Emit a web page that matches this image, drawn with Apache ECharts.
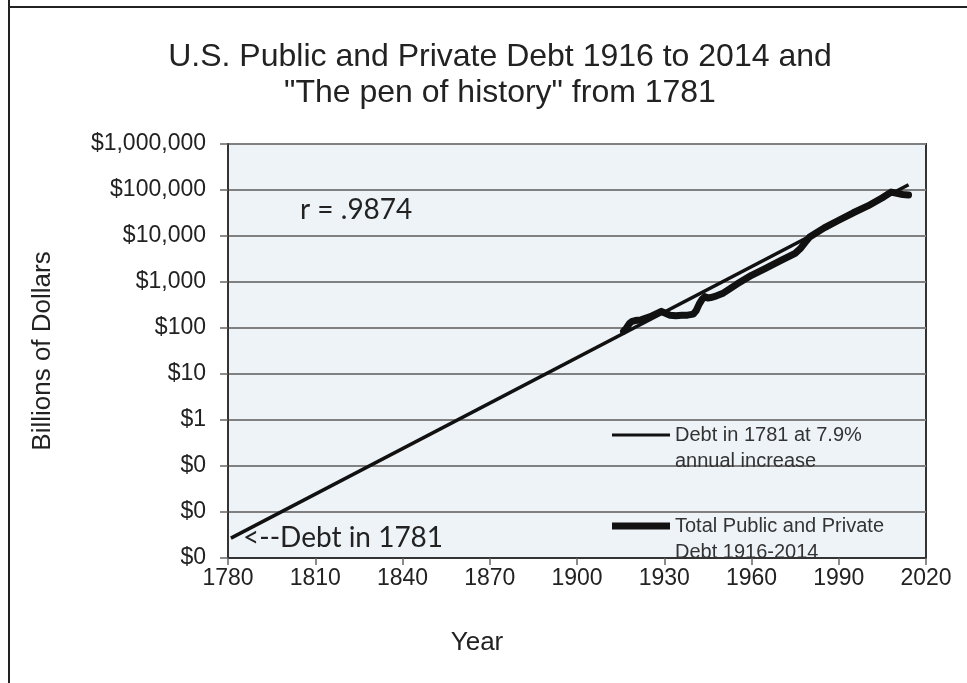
<!DOCTYPE html>
<html>
<head>
<meta charset="utf-8">
<script src="https://cdn.jsdelivr.net/npm/echarts@6/dist/echarts.min.js"></script>
<style>
html,body{margin:0;padding:0;background:#fff;}
#chart{width:967px;height:683px;}
</style>
</head>
<body>
<div id="chart"></div>
<script>
// ---- data ----
const titleLines = ['U.S. Public and Private Debt 1916 to 2014 and', '"The pen of history" from 1781'];
const yTicks = [0.001, 0.01, 0.1, 1, 10, 100, 1000, 10000, 100000, 1000000];
const xTicks = [1780, 1810, 1840, 1870, 1900, 1930, 1960, 1990, 2020];

const penName = 'Debt in 1781 at 7.9% annual increase';
const penYears = [1781, 2014];
const penValues = [0.0027, 130000];

const debtName = 'Total Public and Private Debt 1916-2014';
const debtYears = [1916, 1917, 1918, 1919, 1920, 1922, 1925, 1927, 1929, 1930, 1932, 1934, 1936, 1938, 1940, 1941, 1942, 1943, 1944, 1945, 1946, 1948, 1950, 1955, 1960, 1965, 1970, 1975, 1977, 1979, 1980, 1985, 1990, 1995, 2000, 2005, 2008, 2010, 2012, 2014];
const debtValues = [85, 100, 125, 140, 145, 150, 175, 200, 230, 215, 190, 185, 190, 190, 200, 240, 330, 420, 480, 450, 460, 500, 560, 900, 1400, 2000, 2900, 4200, 5500, 8000, 9500, 15000, 22000, 32000, 45000, 68000, 90000, 85000, 80000, 78000];

const legendLines = {};
legendLines[penName] = ['Debt in 1781 at 7.9%', 'annual increase'];
legendLines[debtName] = ['Total Public and Private', 'Debt 1916-2014'];

const rText = 'r = .9874';
const startText = '<--Debt in 1781';

// ---- chart ----
const chart = echarts.init(document.getElementById('chart'));
const FONT = '"Liberation Sans", Arial, sans-serif';

function pairs(xs, ys) { return xs.map((x, i) => [x, ys[i]]); }

const legendCommon = {
  orient: 'vertical',
  selectedMode: false,
  icon: 'rect',
  itemWidth: 58,
  itemGap: 0,
  padding: 0,
  textStyle: { fontFamily: FONT, fontSize: 20, color: '#333', lineHeight: 26 },
  formatter: n => '\n' + legendLines[n].join('\n')
};

chart.setOption({
  backgroundColor: '#ffffff',
  animation: false,
  title: {
    text: titleLines.join('\n'),
    left: 495,
    top: 34,
    textAlign: 'center',
    textStyle: { fontFamily: FONT, fontSize: 32, fontWeight: 'normal', color: '#222', lineHeight: 36 }
  },
  legend: [
    Object.assign({}, legendCommon, { data: [penName], left: 612, top: 396, itemHeight: 3 }),
    Object.assign({}, legendCommon, { data: [debtName], left: 612, top: 487, itemHeight: 7 })
  ],
  grid: {
    left: 228, top: 144, right: 41, bottom: 125,
    show: true, backgroundColor: '#eef3f8', borderColor: '#333', borderWidth: 2
  },
  xAxis: {
    type: 'value',
    min: xTicks[0], max: xTicks[xTicks.length - 1], interval: 30,
    name: 'Year', nameLocation: 'middle', nameGap: 72,
    nameTextStyle: { fontFamily: FONT, fontSize: 26, color: '#222', padding: [0, 200, 0, 0] },
    axisLine: { show: true, lineStyle: { color: '#333', width: 2 } },
    axisTick: { show: true, inside: false, length: 7, lineStyle: { color: '#666', width: 1.5 } },
    axisLabel: { fontFamily: FONT, fontSize: 23, color: '#222', margin: 9, formatter: v => String(Math.round(v)) },
    splitLine: { show: false }
  },
  yAxis: {
    type: 'log', logBase: 10,
    min: yTicks[0], max: yTicks[yTicks.length - 1], splitNumber: 9,
    name: 'Billions of Dollars', nameLocation: 'middle', nameGap: 172, nameRotate: 90,
    nameTextStyle: { fontFamily: FONT, fontSize: 26, color: '#222' },
    axisLine: { show: true, lineStyle: { color: '#333', width: 2 } },
    axisTick: { show: true, inside: false, length: 8, lineStyle: { color: '#666', width: 1.5 } },
    axisLabel: {
      fontFamily: FONT, fontSize: 23, color: '#222', margin: 22,
      formatter: v => v < 1 ? '$0' : '$' + Math.round(v).toLocaleString('en-US')
    },
    splitLine: { show: true, lineStyle: { color: '#808080', width: 2 } }
  },
  series: [
    {
      name: debtName, type: 'line', showSymbol: false, symbol: 'none',
      data: pairs(debtYears, debtValues),
      lineStyle: { color: '#111', width: 7, cap: 'round', join: 'round' },
      itemStyle: { color: '#111' }, z: 3
    },
    {
      name: penName, type: 'line', showSymbol: false, symbol: 'none',
      data: pairs(penYears, penValues),
      lineStyle: { color: '#111', width: 3.5 },
      itemStyle: { color: '#111' }, z: 4
    }
  ],
  graphic: [
    { type: 'line', shape: { x1: 9, y1: 0, x2: 9, y2: 683 }, style: { stroke: '#222', lineWidth: 2 } },
    { type: 'line', shape: { x1: 9, y1: 7, x2: 967, y2: 7 }, style: { stroke: '#222', lineWidth: 2 } },
    { type: 'text', left: 300, top: 196, style: { text: rText, font: '28px Lato, "Open Sans", sans-serif', fill: '#222' } },
    { type: 'text', left: 243, top: 524, style: { text: startText, font: '28px Lato, "Open Sans", sans-serif', fill: '#222' } }
  ]
});
</script>
</body>
</html>
